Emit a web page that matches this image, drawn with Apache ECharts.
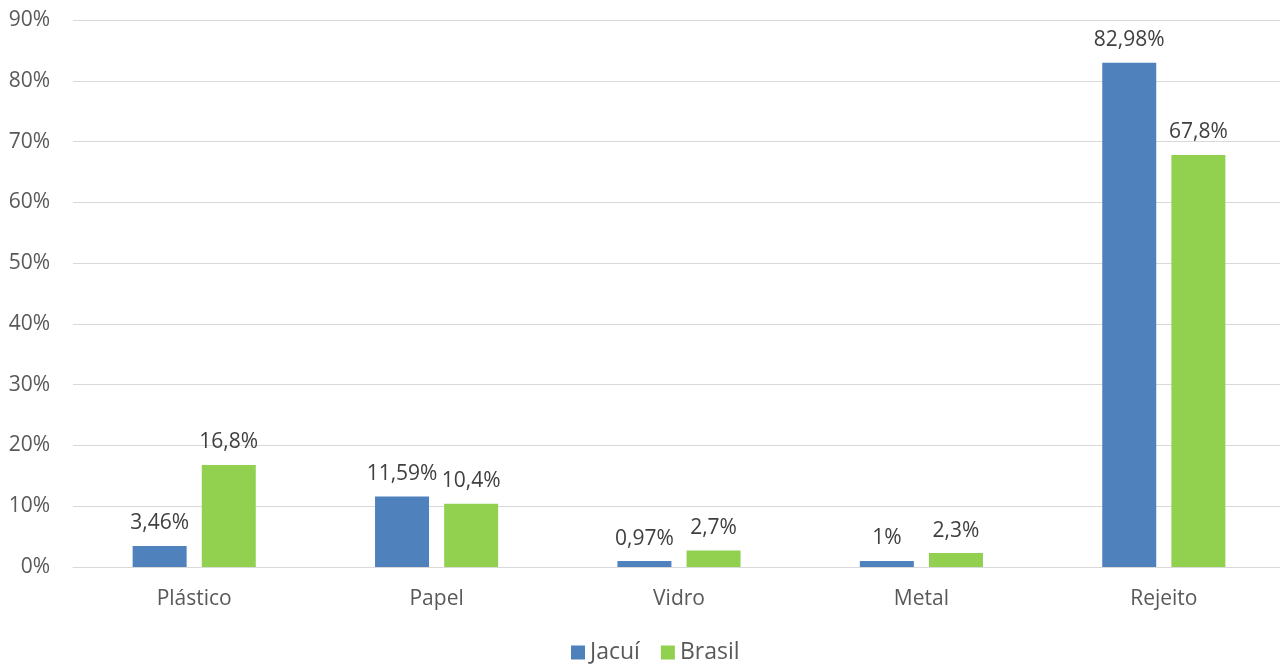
<!DOCTYPE html>
<html><head><meta charset="utf-8">
<script src="https://cdn.jsdelivr.net/npm/echarts@6/dist/echarts.min.js"></script>
<style>html,body{margin:0;padding:0;background:#fff;overflow:hidden}#c{width:1290px;height:664px}</style>
</head><body><div id="c"></div>
<script>
const categories = ['Plástico', 'Papel', 'Vidro', 'Metal', 'Rejeito'];
const jacui = [3.46, 11.59, 0.97, 1, 82.98];
const brasil = [16.8, 10.4, 2.7, 2.3, 67.8];
const seriesNames = ['Jacuí', 'Brasil'];
const fmt = v => String(v).replace('.', ',') + '%';
const font = '"Open Sans", sans-serif';
const chart = echarts.init(document.getElementById('c'));
const lbl = {show: true, position: 'top', distance: 12, color: '#404040', fontSize: 21, fontFamily: font,
  formatter: p => fmt(p.value)};
chart.setOption({
  animation: false,
  textStyle: {fontFamily: font},
  grid: {left: 73, width: 1212, top: 20, bottom: 97, containLabel: false},
  legend: {bottom: -5, left: 566, itemWidth: 14, itemHeight: 14, itemGap: 21, itemTextGap: 7,
    icon: 'rect', textStyle: {fontSize: 23, color: '#595959', fontFamily: font}, data: seriesNames},
  xAxis: {type: 'category', data: categories,
    axisLine: {lineStyle: {color: '#d9d9d9', width: 1}}, axisTick: {show: false},
    axisLabel: {color: '#595959', fontSize: 21, margin: 22, fontFamily: font}},
  yAxis: {type: 'value', min: 0, max: 90, interval: 10,
    axisLine: {show: false}, axisTick: {show: false},
    splitLine: {lineStyle: {color: '#d9d9d9', width: 1}},
    axisLabel: {color: '#595959', fontSize: 21, margin: 23, fontFamily: font, formatter: v => v + '%'}},
  series: [
    {name: seriesNames[0], type: 'bar', data: jacui, barWidth: 54, barGap: '28%',
      itemStyle: {color: '#4f81bd'}, label: lbl},
    {name: seriesNames[1], type: 'bar', data: brasil, barWidth: 54,
      itemStyle: {color: '#92d050'}, label: lbl}
  ]
});
</script></body></html>
